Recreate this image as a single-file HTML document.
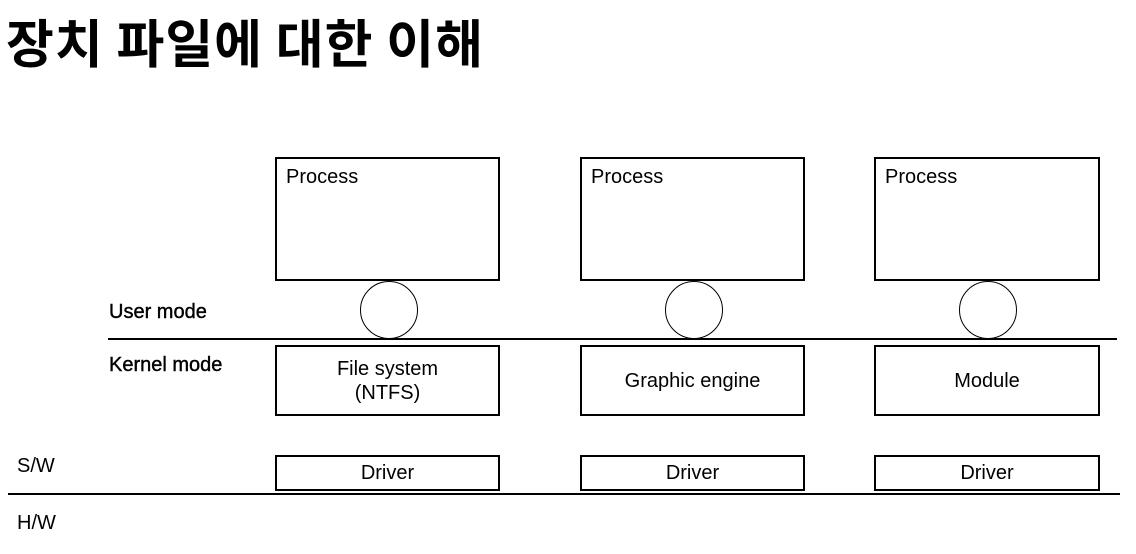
<!DOCTYPE html>
<html><head><meta charset="utf-8"><style>
body{margin:0;width:1136px;height:554px;background:#fff;position:relative;overflow:hidden;font-family:"Liberation Sans","Noto Sans CJK KR",sans-serif;color:#000}
.a{position:absolute}
.b{position:absolute;border:2px solid #000;box-sizing:border-box}
.c{position:absolute;border:1px solid #000;border-radius:50%;width:58px;height:58px;box-sizing:border-box}
.t{font-size:20px}
.ctr{display:flex;align-items:center;justify-content:center;text-align:center;font-size:20px;line-height:24px}
</style></head><body>
<div class="a" style="left:6px;top:8px;font-size:52px;letter-spacing:1px;font-weight:bold;font-family:'Noto Sans CJK KR',sans-serif;line-height:66px">장치 파일에 대한 이해</div>

<div class="b" style="left:275px;top:157px;width:225px;height:124px"><span class="a t" style="left:9px;top:7px">Process</span></div>
<div class="b" style="left:580px;top:157px;width:225px;height:124px"><span class="a t" style="left:9px;top:7px">Process</span></div>
<div class="b" style="left:874px;top:157px;width:226px;height:124px"><span class="a t" style="left:9px;top:7px">Process</span></div>

<div class="c" style="left:360px;top:281px"></div>
<div class="c" style="left:665px;top:281px"></div>
<div class="c" style="left:959px;top:281px"></div>

<div class="a t" style="left:109px;top:301px;-webkit-text-stroke:0.4px #000">User mode</div>
<div class="a" style="left:108px;top:338px;width:1009px;height:2px;background:#000"></div>
<div class="a t" style="left:109px;top:354px;-webkit-text-stroke:0.4px #000">Kernel mode</div>

<div class="b ctr" style="left:275px;top:345px;width:225px;height:71px">File system<br>(NTFS)</div>
<div class="b ctr" style="left:580px;top:345px;width:225px;height:71px">Graphic engine</div>
<div class="b ctr" style="left:874px;top:345px;width:226px;height:71px">Module</div>

<div class="a t" style="left:17px;top:455px">S/W</div>
<div class="b ctr" style="left:275px;top:455px;width:225px;height:36px">Driver</div>
<div class="b ctr" style="left:580px;top:455px;width:225px;height:36px">Driver</div>
<div class="b ctr" style="left:874px;top:455px;width:226px;height:36px">Driver</div>
<div class="a" style="left:8px;top:493px;width:1112px;height:2px;background:#000"></div>
<div class="a t" style="left:17px;top:512px">H/W</div>
</body></html>
